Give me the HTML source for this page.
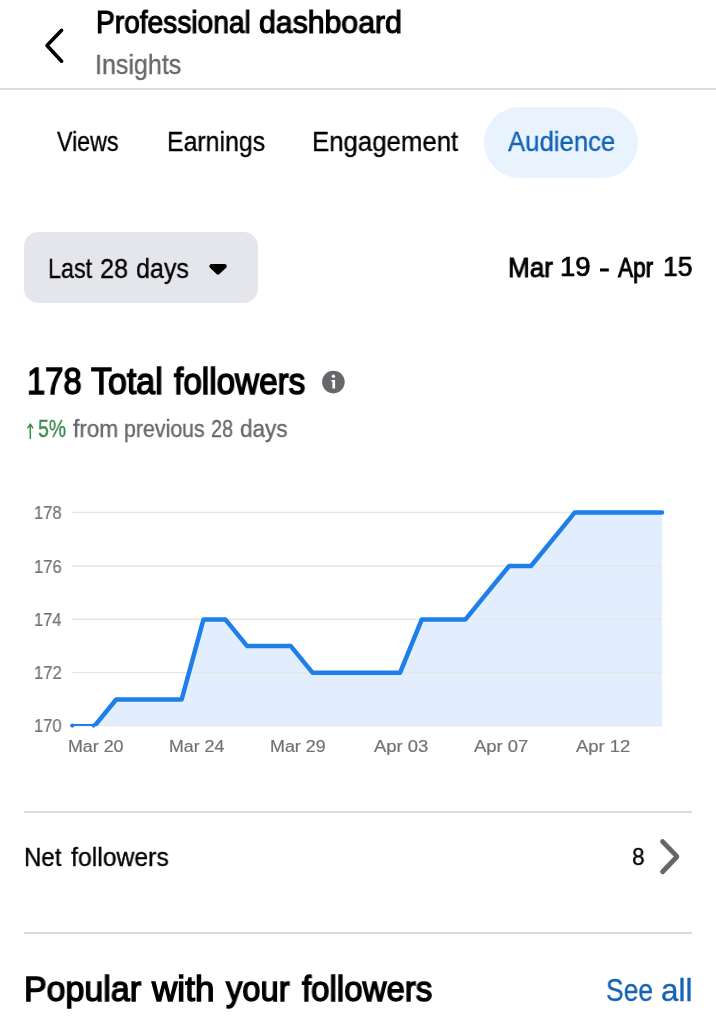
<!DOCTYPE html>
<html><head><meta charset="utf-8"><style>
html,body{margin:0;padding:0;background:#fff;width:716px;height:1024px;overflow:hidden;position:relative}
body{font-family:"Liberation Sans",sans-serif}
.abs{position:absolute}
.t{position:absolute;white-space:nowrap;line-height:1;transform-origin:0 0;will-change:transform}
.hr{position:absolute;height:1.5px;background:#dcdcdc}
</style></head><body>
<div class="hr" style="left:0;top:88px;width:716px"></div>
<div class="abs" style="left:483.8px;top:106.5px;width:154.5px;height:71px;border-radius:35.5px;background:#e8f3fe"></div>
<div class="abs" style="left:24px;top:232px;width:234px;height:71.4px;border-radius:14.5px;background:#e4e6eb"></div>
<div class="hr" style="left:24px;top:811px;width:668px"></div>
<div class="hr" style="left:24px;top:932px;width:668px"></div>
<svg class="abs" width="716" height="1024" viewBox="0 0 716 1024" style="left:0;top:0">
<path d="M72.5,725.8 L72.50,726.20 L94.33,726.20 L116.17,699.50 L138.00,699.50 L159.83,699.50 L181.67,699.50 L203.50,619.40 L225.33,619.40 L247.17,646.10 L269.00,646.10 L290.83,646.10 L312.67,672.80 L334.50,672.80 L356.33,672.80 L378.17,672.80 L400.00,672.80 L421.83,619.40 L443.67,619.40 L465.50,619.40 L487.33,592.70 L509.17,566.00 L531.00,566.00 L552.83,539.30 L574.67,512.60 L596.50,512.60 L618.33,512.60 L640.17,512.60 L662.00,512.60 L662,725.8 Z" fill="#e2eefd"/>
<line x1="72" x2="662" y1="512.5" y2="512.5" stroke="#e6e6e6" stroke-width="1.4"/><line x1="72" x2="662" y1="566" y2="566" stroke="#e6e6e6" stroke-width="1.4"/><line x1="72" x2="662" y1="619.3" y2="619.3" stroke="#e6e6e6" stroke-width="1.4"/><line x1="72" x2="662" y1="672.6" y2="672.6" stroke="#e6e6e6" stroke-width="1.4"/><line x1="72" x2="662" y1="725.6" y2="725.6" stroke="#e6e6e6" stroke-width="1.4"/>
<clipPath id="cp"><rect x="0" y="0" width="716" height="725.9"/></clipPath>
<polyline clip-path="url(#cp)" points="72.50,726.20 94.33,726.20 116.17,699.50 138.00,699.50 159.83,699.50 181.67,699.50 203.50,619.40 225.33,619.40 247.17,646.10 269.00,646.10 290.83,646.10 312.67,672.80 334.50,672.80 356.33,672.80 378.17,672.80 400.00,672.80 421.83,619.40 443.67,619.40 465.50,619.40 487.33,592.70 509.17,566.00 531.00,566.00 552.83,539.30 574.67,512.60 596.50,512.60 618.33,512.60 640.17,512.60 662.00,512.60" fill="none" stroke="#1f7fe9" stroke-width="4.5" stroke-linejoin="round" stroke-linecap="round"/>
<circle cx="72.3" cy="725.6" r="2.1" fill="#1f7fe9"/><circle cx="93.6" cy="725.6" r="2.1" fill="#1f7fe9"/>
<path d="M61.6,30.3 L47.0,45.6 L61.6,61.2" fill="none" stroke="#000" stroke-width="3.6" stroke-linecap="round" stroke-linejoin="round"/>
<path d="M662.6,841.6 L676.2,855.6 Q677.2,856.6 676.2,857.6 L662.6,871.8" fill="none" stroke="#65676b" stroke-width="4.9" stroke-linecap="round" stroke-linejoin="round"/>
<circle cx="333.4" cy="382.1" r="11.3" fill="#65676b"/>
<path d="M30.3,424.6 L30.3,438.6 M27.8,427.9 L30.3,424.1 L32.8,427.9" fill="none" stroke="#3d8b4a" stroke-width="1.5" stroke-linecap="round" stroke-linejoin="round"/>
<path d="M331.3,379.9 L335.1,379.9 L335.1,388.6 L332.4,388.6 L332.4,381.6 L331.3,381.3 Z" fill="#fff"/>
<circle cx="333.4" cy="376.3" r="1.7" fill="#fff"/>
<path d="M211.5,266.2 L224.6,266.2 L218,272.4 Z" fill="#000" stroke="#000" stroke-width="4.4" stroke-linejoin="round"/>
</svg>
<div class="t" id="title0" style="left:95.80px;top:7.76px;font-size:30.70px;transform:scaleX(0.9167);color:#000000;font-weight:400;-webkit-text-stroke:1.1px #000000;">Professional</div>
<div class="t" id="title1" style="left:259.14px;top:7.76px;font-size:30.70px;transform:scaleX(0.9850);color:#000000;font-weight:400;-webkit-text-stroke:1.1px #000000;">dashboard</div>
<div class="t" id="insights" style="left:94.92px;top:51.38px;font-size:27.70px;transform:scaleX(0.9042);color:#65676b;font-weight:400;-webkit-text-stroke:0.35px #65676b;">Insights</div>
<div class="t" id="views" style="left:56.86px;top:128.38px;font-size:27.70px;transform:scaleX(0.8390);color:#000000;font-weight:400;-webkit-text-stroke:0.35px #000000;">Views</div>
<div class="t" id="earn" style="left:166.59px;top:128.38px;font-size:27.70px;transform:scaleX(0.8979);color:#000000;font-weight:400;-webkit-text-stroke:0.35px #000000;">Earnings</div>
<div class="t" id="eng" style="left:312.11px;top:128.38px;font-size:27.70px;transform:scaleX(0.9312);color:#000000;font-weight:400;-webkit-text-stroke:0.35px #000000;">Engagement</div>
<div class="t" id="aud" style="left:507.65px;top:128.02px;font-size:28.12px;transform:scaleX(0.9155);color:#1463b5;font-weight:400;-webkit-text-stroke:0.35px #1463b5;">Audience</div>
<div class="t" id="last0" style="left:47.71px;top:254.76px;font-size:27.84px;transform:scaleX(0.8392);color:#000000;font-weight:400;-webkit-text-stroke:0.35px #000000;">Last</div>
<div class="t" id="last1" style="left:100.41px;top:254.76px;font-size:27.84px;transform:scaleX(0.9069);color:#000000;font-weight:400;-webkit-text-stroke:0.35px #000000;">28</div>
<div class="t" id="last2" style="left:136.37px;top:254.76px;font-size:27.84px;transform:scaleX(0.9012);color:#000000;font-weight:400;-webkit-text-stroke:0.35px #000000;">days</div>
<div class="t" id="range0" style="left:508.16px;top:253.62px;font-size:27.21px;transform:scaleX(0.9589);color:#000000;font-weight:400;-webkit-text-stroke:0.9px #000000;">Mar</div>
<div class="t" id="range1" style="left:560.28px;top:253.48px;font-size:27.49px;transform:scaleX(1.0032);color:#000000;font-weight:400;-webkit-text-stroke:0.7px #000000;">19</div>
<div class="t" id="range2" style="left:598.65px;top:253.55px;font-size:27.35px;transform:scaleX(1.1790);color:#000000;font-weight:400;-webkit-text-stroke:0.8px #000000;">-</div>
<div class="t" id="range3" style="left:617.69px;top:253.69px;font-size:27.07px;transform:scaleX(0.8375);color:#000000;font-weight:400;-webkit-text-stroke:1.0px #000000;">Apr</div>
<div class="t" id="range4" style="left:662.56px;top:253.48px;font-size:27.49px;transform:scaleX(0.9652);color:#000000;font-weight:400;-webkit-text-stroke:0.7px #000000;">15</div>
<div class="t" id="total0" style="left:26.79px;top:363.48px;font-size:37.54px;transform:scaleX(0.8732);color:#000000;font-weight:400;-webkit-text-stroke:1.5px #000000;">178</div>
<div class="t" id="total1" style="left:91.00px;top:363.48px;font-size:37.54px;transform:scaleX(0.9048);color:#000000;font-weight:400;-webkit-text-stroke:1.5px #000000;">Total</div>
<div class="t" id="total2" style="left:174.45px;top:363.48px;font-size:37.54px;transform:scaleX(0.8871);color:#000000;font-weight:400;-webkit-text-stroke:1.5px #000000;">followers</div>
<div class="t" id="pct5" style="left:37.80px;top:417.29px;font-size:23.79px;transform:scaleX(0.8146);color:#3d8b4a;font-weight:400;-webkit-text-stroke:0.35px #3d8b4a;">5%</div>
<div class="t" id="from0" style="left:72.94px;top:417.54px;font-size:23.37px;transform:scaleX(0.9663);color:#65676b;font-weight:400;-webkit-text-stroke:0.35px #65676b;">from</div>
<div class="t" id="from1" style="left:124.09px;top:417.54px;font-size:23.37px;transform:scaleX(0.9144);color:#65676b;font-weight:400;-webkit-text-stroke:0.35px #65676b;">previous</div>
<div class="t" id="from2" style="left:211.48px;top:417.54px;font-size:23.37px;transform:scaleX(0.8494);color:#65676b;font-weight:400;-webkit-text-stroke:0.35px #65676b;">28</div>
<div class="t" id="from3" style="left:240.38px;top:417.54px;font-size:23.37px;transform:scaleX(0.9619);color:#65676b;font-weight:400;-webkit-text-stroke:0.35px #65676b;">days</div>
<div class="t" id="y178" style="left:34.05px;top:503.04px;font-size:18.98px;transform:scaleX(0.8771);color:#707276;font-weight:400;-webkit-text-stroke:0.2px #707276;">178</div>
<div class="t" id="y176" style="left:34.05px;top:556.54px;font-size:18.98px;transform:scaleX(0.8800);color:#707276;font-weight:400;-webkit-text-stroke:0.2px #707276;">176</div>
<div class="t" id="y174" style="left:34.06px;top:609.94px;font-size:18.98px;transform:scaleX(0.8715);color:#707276;font-weight:400;-webkit-text-stroke:0.2px #707276;">174</div>
<div class="t" id="y172" style="left:34.04px;top:663.24px;font-size:18.98px;transform:scaleX(0.8828);color:#707276;font-weight:400;-webkit-text-stroke:0.2px #707276;">172</div>
<div class="t" id="y170" style="left:34.05px;top:716.24px;font-size:18.98px;transform:scaleX(0.8771);color:#707276;font-weight:400;-webkit-text-stroke:0.2px #707276;">170</div>
<div class="t" id="xMar20" style="left:67.87px;top:737.85px;font-size:17.30px;transform:scaleX(1.0322);color:#707276;font-weight:400;-webkit-text-stroke:0.2px #707276;">Mar 20</div>
<div class="t" id="xMar24" style="left:169.08px;top:737.85px;font-size:17.30px;transform:scaleX(1.0287);color:#707276;font-weight:400;-webkit-text-stroke:0.2px #707276;">Mar 24</div>
<div class="t" id="xMar29" style="left:270.07px;top:737.85px;font-size:17.30px;transform:scaleX(1.0339);color:#707276;font-weight:400;-webkit-text-stroke:0.2px #707276;">Mar 29</div>
<div class="t" id="xApr03" style="left:373.91px;top:737.85px;font-size:17.30px;transform:scaleX(1.0661);color:#707276;font-weight:400;-webkit-text-stroke:0.2px #707276;">Apr 03</div>
<div class="t" id="xApr07" style="left:474.41px;top:737.85px;font-size:17.30px;transform:scaleX(1.0679);color:#707276;font-weight:400;-webkit-text-stroke:0.2px #707276;">Apr 07</div>
<div class="t" id="xApr12" style="left:576.21px;top:737.85px;font-size:17.30px;transform:scaleX(1.0679);color:#707276;font-weight:400;-webkit-text-stroke:0.2px #707276;">Apr 12</div>
<div class="t" id="net0" style="left:23.85px;top:844.63px;font-size:25.74px;transform:scaleX(0.9341);color:#000000;font-weight:400;-webkit-text-stroke:0.35px #000000;">Net</div>
<div class="t" id="net1" style="left:70.80px;top:844.63px;font-size:25.74px;transform:scaleX(0.9628);color:#000000;font-weight:400;-webkit-text-stroke:0.35px #000000;">followers</div>
<div class="t" id="eight" style="left:631.56px;top:844.81px;font-size:24.35px;transform:scaleX(0.9306);color:#000000;font-weight:400;-webkit-text-stroke:0.35px #000000;">8</div>
<div class="t" id="popular0" style="left:23.98px;top:971.51px;font-size:34.61px;transform:scaleX(0.9816);color:#000000;font-weight:400;-webkit-text-stroke:1.4px #000000;">Popular</div>
<div class="t" id="popular1" style="left:151.70px;top:971.51px;font-size:34.61px;transform:scaleX(1.0139);color:#000000;font-weight:400;-webkit-text-stroke:1.4px #000000;">with</div>
<div class="t" id="popular2" style="left:225.54px;top:971.51px;font-size:34.61px;transform:scaleX(0.9452);color:#000000;font-weight:400;-webkit-text-stroke:1.4px #000000;">your</div>
<div class="t" id="popular3" style="left:302.00px;top:971.51px;font-size:34.61px;transform:scaleX(0.9541);color:#000000;font-weight:400;-webkit-text-stroke:1.4px #000000;">followers</div>
<div class="t" id="seeall0" style="left:605.89px;top:975.34px;font-size:31.05px;transform:scaleX(0.8510);color:#1463b5;font-weight:400;-webkit-text-stroke:0.35px #1463b5;">See</div>
<div class="t" id="seeall1" style="left:660.86px;top:975.34px;font-size:31.05px;transform:scaleX(1.0115);color:#1463b5;font-weight:400;-webkit-text-stroke:0.35px #1463b5;">all</div>
</body></html>
